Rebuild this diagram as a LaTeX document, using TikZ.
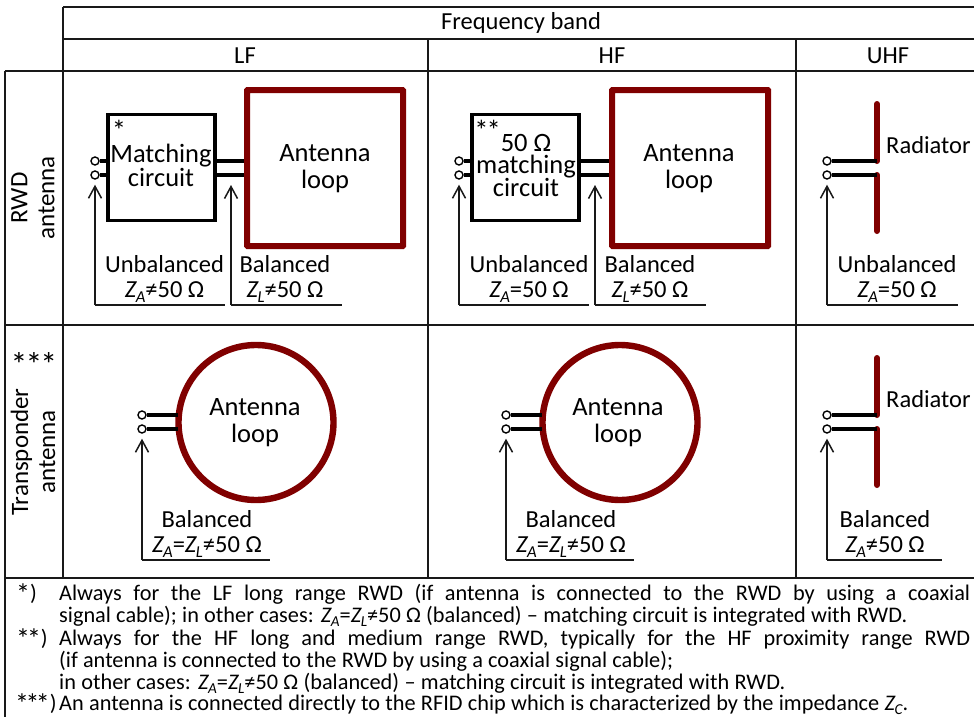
\documentclass[tikz,border=0pt]{standalone}
\usepackage{fontspec}
\setmainfont{Carlito}
\usetikzlibrary{arrows.meta}
\definecolor{loopred}{HTML}{800000}
\newcommand{\Zsub}[1]{{\itshape Z\kern-0.02em\raisebox{-0.22em}{\fontsize{0.68em}{0.68em}\selectfont #1}}}
\newcommand{\Ast}{{\fontsize{1.3em}{1em}\selectfont\raisebox{-0.02em}{*}}}
\newcommand{\Asf}{{\fontsize{1.25em}{1em}\selectfont\raisebox{-0.14em}{*}}}
\newcommand{\Fj}[4]{\node[fntext] (#1) at (59,#2) {\makebox[#3pt][s]{#4}};}
\tikzset{
  x=1pt,y=-1pt,
  frame/.style={line width=1.5pt,black!90},
  heavyframe/.style={line width=2.2pt,black!90},
  lab/.style={inner sep=0pt,align=center,font=\fontsize{24.5}{24.5}\selectfont},
  big/.style={inner sep=0pt,align=center,font=\fontsize{26.5}{27}\selectfont},
  tight/.style={inner sep=0pt,align=center,font=\fontsize{26.5}{21}\selectfont},
  tighter/.style={inner sep=0pt,align=center,font=\fontsize{26.5}{22}\selectfont},
  side/.style={inner sep=0pt,align=center,rotate=90,font=\fontsize{25}{27}\selectfont},
  note/.style={inner sep=0pt,align=center,font=\fontsize{24.5}{25}\selectfont},
  fntext/.style={inner sep=0pt,anchor=base west,font=\fontsize{22.3}{22}\selectfont},
  matchbox/.style={draw=black,line width=3.4pt,inner sep=0pt,minimum width=107pt,minimum height=106pt},
  loopbox/.style={draw=loopred,line width=6pt,inner sep=0pt,minimum width=156pt,minimum height=156pt,rounded corners=0.5pt},
  loopring/.style={draw=loopred,line width=6.4pt,circle,inner sep=0pt,minimum size=155pt},
  term/.style={draw=black,fill=white,line width=1.4pt,circle,inner sep=0pt,minimum size=8pt},
  wire/.style={line width=4pt,black},
  radiator/.style={line width=6pt,loopred,line cap=round},
  meas/.style={line width=1.5pt,black!90,-{Straight Barb[length=12pt,width=13pt,line width=1.5pt]}},
  tail/.style={line width=1.5pt,black!90},
}
\begin{document}
\begin{tikzpicture}
\useasboundingbox (0,0) rectangle (974,717);
\fill[white] (0,0) rectangle (974,717);
% table frame
\coordinate (h0) at (63,7);   \coordinate (h1) at (974,7);
\coordinate (h2) at (63,39);  \coordinate (h3) at (974,39);
\coordinate (r0) at (5,71);   \coordinate (r1) at (974,71);
\coordinate (r2) at (5,325);  \coordinate (r3) at (974,325);
\coordinate (r4) at (5,578);  \coordinate (r5) at (974,578);
\coordinate (f0) at (5,717);
\coordinate (c0) at (63,578); \coordinate (c1t) at (428,39); \coordinate (c1b) at (428,578);
\coordinate (c2t) at (796,39); \coordinate (c2b) at (796,578);
\draw[frame] (h0) -- (h1);
\draw[frame] (h2) -- (h3);
\draw[frame] (r0) -- (r1);
\draw[frame] (r2) -- (r3);
\draw[heavyframe] (r4) -- (r5);
\draw[frame] (h0) -- (c0);
\draw[frame] (c1t) -- (c1b);
\draw[frame] (c2t) -- (c2b);
\draw[frame] (r0) -- (f0);
% headers
\node[lab] (band) at (521,23) {Frequency band};
\node[lab] (lf) at (245,56) {LF};
\node[lab] (hf) at (612,56) {HF};
\node[lab] (uhf) at (888,56) {UHF};
\node[side] (rwd) at (33,198) {RWD\\antenna};
\node[side] (tra) at (33,452) {Transponder\\antenna};
\node[inner sep=0pt,font=\fontsize{26}{27}\selectfont] (stars) at (34,364) {\Ast\kern-2pt\Ast\kern-2pt\Ast};
% ---- RWD LF
\node[matchbox] (mc1) at (161.5,167.5) {};
\node[tight] (mc1t) at (161,165.5) {Matching\\circuit};
\node[inner sep=0pt,font=\fontsize{22}{22}\selectfont] (s1) at (119,130) {\Ast};
\node[loopbox] (lp1) at (325,168) {};
\node[big] (lp1t) at (325,169) {Antenna\\loop};
\node[term] (a1) at (95,161) {}; \node[term] (b1) at (95,175) {};
\draw[wire] (a1) -- (a1-|mc1.west);
\draw[wire] (b1) -- (b1-|mc1.west);
\draw[wire] (mc1.east|-a1) -- (lp1.west|-a1);
\draw[wire] (mc1.east|-b1) -- (lp1.west|-b1);
\coordinate (k1) at (95,305); \coordinate (e1) at (225,305);
\coordinate (k2) at (231,305); \coordinate (e2) at (342,305); \coordinate (t2) at (231,185);
\draw[meas,shorten >=5pt] (k1) -- (b1);
\draw[tail] (k1) -- (e1);
\draw[meas] (k2) -- (t2);
\draw[tail] (k2) -- (e2);
\node[note] (n1) at (164.500,279) {Unbalanced\\\Zsub{A}≠50 Ω};
\node[note] (n2) at (285,279) {Balanced\\\Zsub{L}≠50 Ω};
% ---- RWD HF
\node[matchbox] (mc2) at (525.500,167.5) {};
\node[tighter] (mc2t) at (526,165.5) {50 Ω\\matching\\circuit};
\node[inner sep=0pt,font=\fontsize{22}{22}\selectfont] (s2) at (487.5,130) {\Ast\kern-2pt\Ast};
\node[loopbox] (lp2) at (690,168) {};
\node[big] (lp2t) at (689,169) {Antenna\\loop};
\node[term] (a2) at (459,161) {}; \node[term] (b2) at (459,175) {};
\draw[wire] (a2) -- (a2-|mc2.west);
\draw[wire] (b2) -- (b2-|mc2.west);
\draw[wire] (mc2.east|-a2) -- (lp2.west|-a2);
\draw[wire] (mc2.east|-b2) -- (lp2.west|-b2);
\coordinate (k3) at (459,305); \coordinate (e3) at (589,305);
\coordinate (k4) at (595,305); \coordinate (e4) at (706,305); \coordinate (t4) at (595,185);
\draw[meas,shorten >=5pt] (k3) -- (b2);
\draw[tail] (k3) -- (e3);
\draw[meas] (k4) -- (t4);
\draw[tail] (k4) -- (e4);
\node[note] (n3) at (529,279) {Unbalanced\\\Zsub{A}=50 Ω};
\node[note] (n4) at (650,279) {Balanced\\\Zsub{L}≠50 Ω};
% ---- RWD UHF
\coordinate (ru1) at (877,104); \coordinate (ru2) at (877,161);
\coordinate (ru3) at (877,175); \coordinate (ru4) at (877,231);
\draw[radiator] (ru1) -- (ru2);
\draw[radiator] (ru3) -- (ru4);
\node[term] (a3) at (827,161) {}; \node[term] (b3) at (827,175) {};
\draw[wire] (a3) -- (ru2);
\draw[wire] (b3) -- (ru3);
\node[note,anchor=west] (n5) at (886,145) {Radiator};
\coordinate (k5) at (827,305); \coordinate (e5) at (958,305);
\draw[meas,shorten >=5pt] (k5) -- (b3);
\draw[tail] (k5) -- (e5);
\node[note] (n6) at (897,279) {Unbalanced\\\Zsub{A}=50 Ω};
% ---- Transponder LF
\node[loopring] (rg1) at (256,422.5) {};
\node[big] (rg1t) at (255,423) {Antenna\\loop};
\node[term] (a4) at (142,415) {}; \node[term] (b4) at (142,429) {};
\draw[wire] (a4) -- (178,415);
\draw[wire] (b4) -- (178,429);
\coordinate (k6) at (142,560); \coordinate (e6) at (270,560);
\draw[meas,shorten >=5pt] (k6) -- (b4);
\draw[tail] (k6) -- (e6);
\node[note] (n7) at (207,534) {Balanced\\\Zsub{A}=\Zsub{L}≠50 Ω};
% ---- Transponder HF
\node[loopring] (rg2) at (620,422.5) {};
\node[big] (rg2t) at (618,423) {Antenna\\loop};
\node[term] (a5) at (506,415) {}; \node[term] (b5) at (506,429) {};
\draw[wire] (a5) -- (542,415);
\draw[wire] (b5) -- (542,429);
\coordinate (k7) at (506,560); \coordinate (e7) at (634,560);
\draw[meas,shorten >=5pt] (k7) -- (b5);
\draw[tail] (k7) -- (e7);
\node[note] (n8) at (571,534) {Balanced\\\Zsub{A}=\Zsub{L}≠50 Ω};
% ---- Transponder UHF
\coordinate (ru5) at (877,358); \coordinate (ru6) at (877,415);
\coordinate (ru7) at (877,429); \coordinate (ru8) at (877,485);
\draw[radiator] (ru5) -- (ru6);
\draw[radiator] (ru7) -- (ru8);
\node[term] (a6) at (827,415) {}; \node[term] (b6) at (827,429) {};
\draw[wire] (a6) -- (ru6);
\draw[wire] (b6) -- (ru7);
\node[note,anchor=west] (n9) at (886,399) {Radiator};
\coordinate (k8) at (827,560); \coordinate (e8) at (942,560);
\draw[meas,shorten >=5pt] (k8) -- (b6);
\draw[tail] (k8) -- (e8);
\node[note] (n10) at (885,534) {Balanced\\\Zsub{A}≠50 Ω};
% ---- footnotes
\node[fntext] (m1) at (16,600) {\Asf)};
\node[fntext] (m2) at (16,645) {\Asf\kern-3pt\Asf)};
\node[fntext] (m3) at (15,710) {\Asf\kern-3.5pt\Asf\kern-3.5pt\Asf)};
\Fj{f1}{600}{911}{Always for the LF long range RWD (if antenna is connected to the RWD by using a coaxial}
\Fj{f2}{622}{848}{signal cable); in other cases: \Zsub{A}=\Zsub{L}≠50 Ω (balanced) – matching circuit is integrated with RWD.}
\Fj{f3}{645}{911}{Always for the HF long and medium range RWD, typically for the HF proximity range RWD}
\Fj{f4}{667}{614}{(if antenna is connected to the RWD by using a coaxial signal cable);}
\Fj{f5}{689}{726}{in other cases: \Zsub{A}=\Zsub{L}≠50 Ω (balanced) – matching circuit is integrated with RWD.}
\Fj{f6}{710}{849}{An antenna is connected directly to the RFID chip which is characterized by the impedance \Zsub{C}.}
\end{tikzpicture}
\end{document}
